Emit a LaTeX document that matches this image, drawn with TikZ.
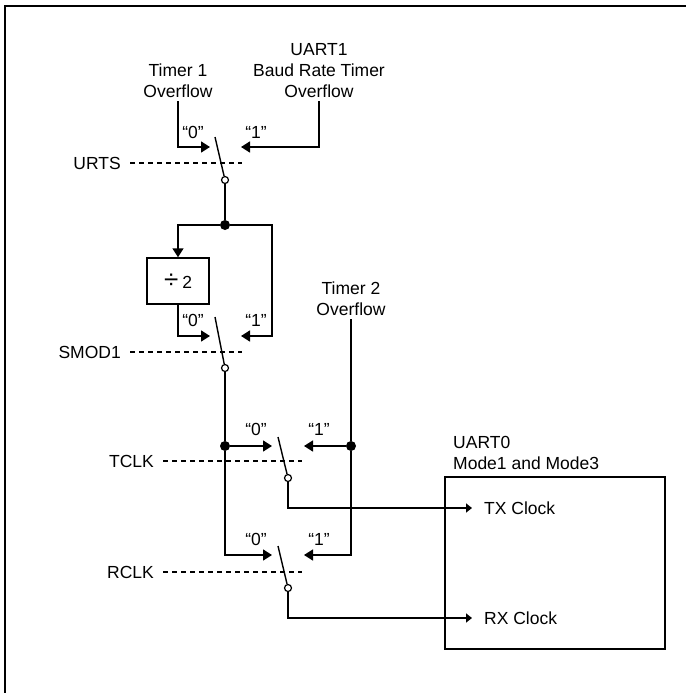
\documentclass[tikz,border=0pt]{standalone}
\usepackage{fontspec}
\setmainfont{Liberation Sans}
\usetikzlibrary{arrows.meta}
\begin{document}
\begin{tikzpicture}[x=1pt,y=-1pt,
  wire/.style={line width=1.6pt},
  sig/.style={wire,-{Triangle[length=9pt,width=11pt]}},
  outsig/.style={wire,-{Triangle[length=6pt,width=9pt]}},
  blade/.style={line width=1.4pt},
  ctl/.style={line width=1.2pt,dash pattern=on 5pt off 4pt},
  pin/.style={circle,draw,line width=1.2pt,fill=white,inner sep=0pt,minimum size=7pt},
  jdot/.style={circle,fill,inner sep=0pt,minimum size=10pt},
  lbl/.style={font=\fontsize{17.5}{21}\selectfont,align=center,inner sep=3pt},
  boxst/.style={draw,line width=1.5pt,inner sep=0pt}]
\useasboundingbox (0,0) rectangle (686,693);
\draw[line width=1.5pt] (5,693) -- (5,6) -- (686,6);

% ---- switch 1 (URTS)
\node[lbl,anchor=south] (t1) at (178,101) {Timer 1\\Overflow};
\node[lbl,anchor=south] (u1) at (319,101) {UART1\\Baud Rate Timer\\Overflow};
\coordinate (s1in0) at (210,147);
\coordinate (s1in1) at (241,147);
\draw[sig] (t1.south) |- (s1in0);
\draw[sig] (u1.south) |- (s1in1);
\node[lbl] (l10) at (193,132) {“0”};
\node[lbl] (l11) at (256,132) {“1”};
\coordinate (b1) at (215,137);
\node[pin] (s1) at (225,180) {};
\draw[blade] (b1) -- (s1);
\node[lbl,anchor=east] (urts) at (124,163) {URTS};
\coordinate (c1) at (242,163);
\draw[ctl] ([xshift=6pt]urts.east) -- (c1);

% ---- divider and switch 2 (SMOD1)
\node[jdot] (d1) at (225,225) {};
\draw[wire] (s1.south) -- (d1);
\node[boxst,lbl,minimum width=62pt,minimum height=46pt] (div) at (178,281) {{\fontsize{26}{26}\selectfont ÷}\hspace{4pt}2};
\draw[sig] (d1) -| (div.north);
\coordinate (r1) at (272,225);
\coordinate (s2in0) at (210,336);
\coordinate (s2in1) at (241,336);
\draw[sig] (d1) -- (r1) |- (s2in1);
\draw[sig] (div.south) |- (s2in0);
\node[lbl] (l20) at (193,320) {“0”};
\node[lbl] (l21) at (256,320) {“1”};
\coordinate (b2) at (215,317);
\node[pin] (s2) at (225,368) {};
\draw[blade] (b2) -- (s2);
\node[lbl,anchor=east] (smod) at (124,352) {SMOD1};
\coordinate (c2) at (242,352);
\draw[ctl] ([xshift=6pt]smod.east) -- (c2);

% ---- switch 3 (TCLK) and switch 4 (RCLK)
\node[jdot] (d3) at (225,446) {};
\node[lbl,anchor=south] (t2) at (351,319) {Timer 2\\Overflow};
\node[jdot] (d4) at (351,446) {};
\coordinate (s3in0) at (272,446);
\coordinate (s3in1) at (304,446);
\coordinate (s4in0) at (272,555);
\coordinate (s4in1) at (304,555);
\draw[wire] (s2.south) -- (d3);
\draw[sig] (d3) -- (s3in0);
\draw[sig] (d3) |- (s4in0);
\draw[wire] (t2.south) -- (d4);
\draw[sig] (d4) -- (s3in1);
\draw[sig] (d4) |- (s4in1);
\node[lbl] (l30) at (256,429) {“0”};
\node[lbl] (l31) at (319,429) {“1”};
\node[lbl] (l40) at (256,539) {“0”};
\node[lbl] (l41) at (319,539) {“1”};
\coordinate (b3) at (278,437);
\node[pin] (s3) at (288,478) {};
\draw[blade] (b3) -- (s3);
\coordinate (b4) at (278,546);
\node[pin] (s4) at (288,588) {};
\draw[blade] (b4) -- (s4);
\node[lbl,anchor=east] (tclk) at (157,461) {TCLK};
\coordinate (c3) at (302,461);
\draw[ctl] ([xshift=6pt]tclk.east) -- (c3);
\node[lbl,anchor=east] (rclk) at (157,572) {RCLK};
\coordinate (c4) at (302,572);
\draw[ctl] ([xshift=6pt]rclk.east) -- (c4);

% ---- UART0 block
\node[boxst,minimum width=220pt,minimum height=172pt] (uart) at (555,563) {};
\node[lbl,align=left,anchor=south west] (ut) at (450,473) {UART0\\Mode1 and Mode3};
\coordinate (tx) at (472,508);
\coordinate (rx) at (472,618);
\draw[outsig] (s3.south) |- (tx);
\draw[outsig] (s4.south) |- (rx);
\node[lbl,anchor=west] (txl) at (481,508) {TX Clock};
\node[lbl,anchor=west] (rxl) at (481,618) {RX Clock};
\end{tikzpicture}
\end{document}
